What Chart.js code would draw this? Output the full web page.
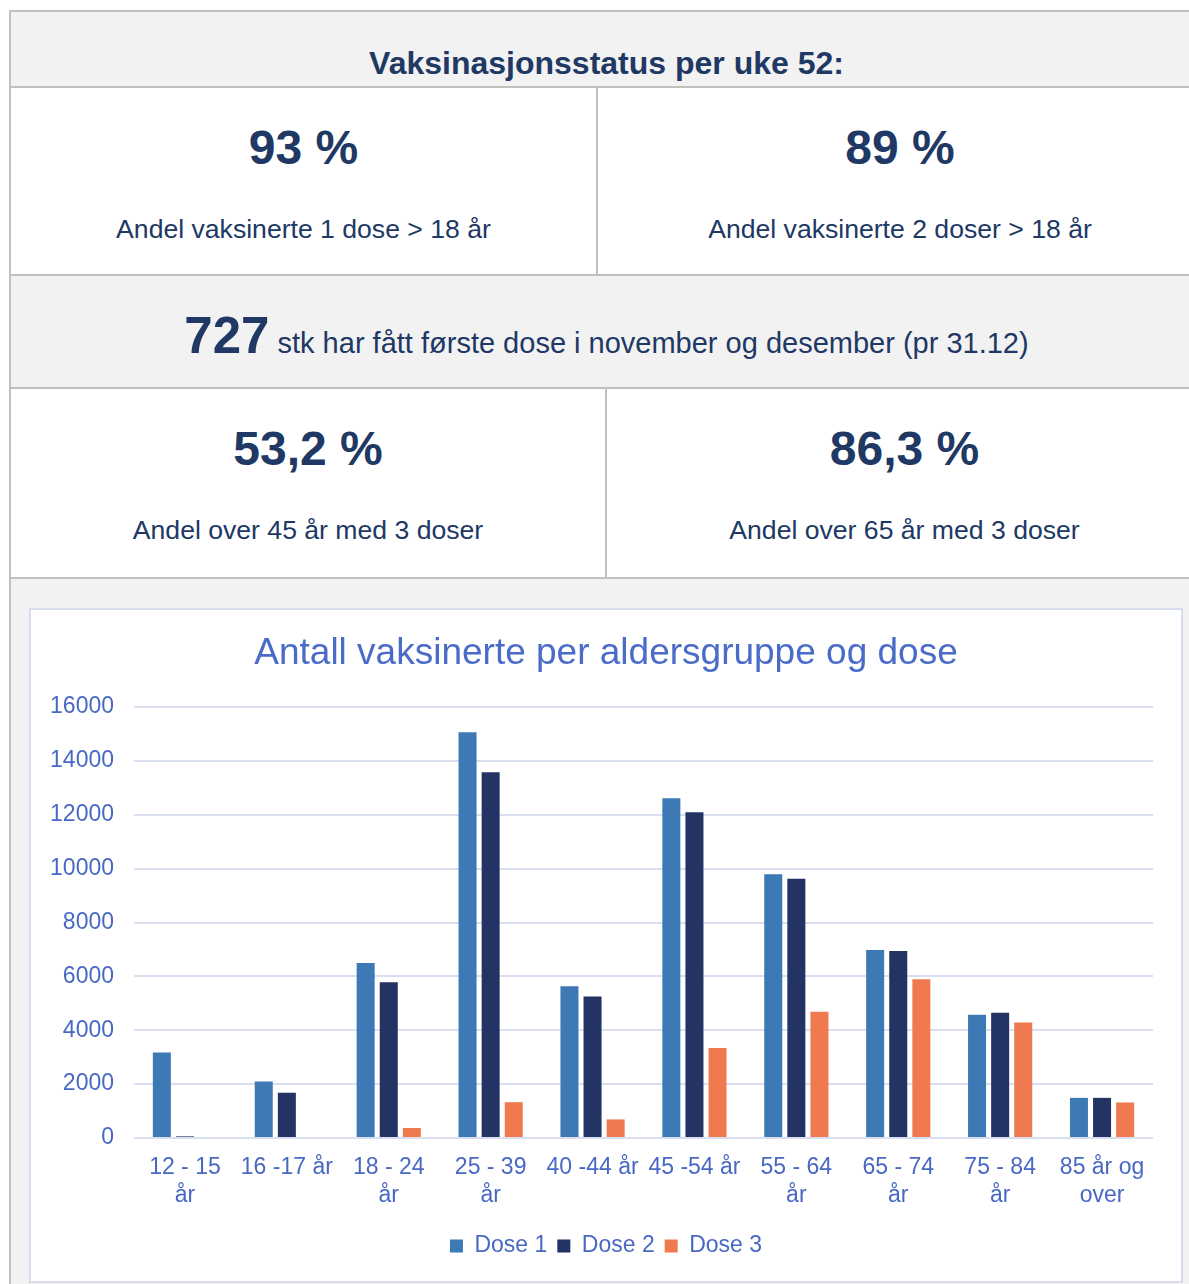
<!DOCTYPE html>
<html lang="no">
<head>
<meta charset="utf-8">
<title>Vaksinasjonsstatus</title>
<script src="https://cdn.jsdelivr.net/npm/chart.js@4.4.0/dist/chart.umd.min.js"></script>
<style>
  html, body { margin: 0; padding: 0; }
  body {
    width: 1189px; height: 1284px; overflow: hidden; position: relative;
    background: #fff; font-family: "Liberation Sans", Arial, sans-serif; color: #203864;
  }
  .row {
    position: absolute; left: 9px; width: 1193px; box-sizing: border-box;
    border-left: 2px solid #c0c0c0; border-top: 2px solid #c0c0c0;
  }
  .grey { background: #f2f2f2; }
  .divider { position: absolute; top: 0; bottom: 0; width: 2px; background: #c0c0c0; }
  .txt { position: absolute; text-align: center; line-height: 1; white-space: nowrap; }
  .big { font-weight: bold; font-size: 48px; }
  .sub { font-size: 26.6px; }
  #chartBox {
    position: absolute; left: 29px; top: 608px; width: 1154px; height: 675px;
    box-sizing: border-box; border: 2px solid #d7ddef; background: #fff;
  }
  #chartWrap { position: absolute; left: 0; top: 0; width: 1150px; height: 671px; }
</style>
</head>
<body>

<div class="row grey" style="top:10px;height:76px;">
  <div class="txt" style="left:0;right:0;top:35px;font-size:32px;font-weight:bold;">Vaksinasjonsstatus per uke 52:</div>
</div>

<div class="row" style="top:86px;height:188px;">
  <div class="divider" style="left:585px;"></div>
  <div class="txt big" style="left:0;width:585px;top:36px;">93 %</div>
  <div class="txt sub" style="left:0;width:585px;top:128px;">Andel vaksinerte 1 dose &gt; 18 år</div>
  <div class="txt big" style="left:587px;width:604px;top:36px;">89 %</div>
  <div class="txt sub" style="left:587px;width:604px;top:128px;">Andel vaksinerte 2 doser &gt; 18 år</div>
</div>

<div class="row grey" style="top:274px;height:113px;">
  <div class="txt" style="left:0;right:0;top:34px;font-size:29px;"><span style="font-size:51px;font-weight:bold;">727</span> stk har fått første dose i november og desember (pr 31.12)</div>
</div>

<div class="row" style="top:387px;height:190px;">
  <div class="divider" style="left:594px;"></div>
  <div class="txt big" style="left:0;width:594px;top:36px;">53,2 %</div>
  <div class="txt sub" style="left:0;width:594px;top:128px;">Andel over 45 år med 3 doser</div>
  <div class="txt big" style="left:596px;width:595px;top:36px;">86,3 %</div>
  <div class="txt sub" style="left:596px;width:595px;top:128px;">Andel over 65 år med 3 doser</div>
</div>

<div class="row grey" style="top:577px;height:720px;"></div>

<div id="chartBox">
  <div id="chartWrap"><canvas id="doseChart"></canvas></div>
</div>

<script>
const ageGroups = [
  ["12 - 15", "år"], "16 -17 år", ["18 - 24", "år"], ["25 - 39", "år"], "40 -44 år",
  "45 -54 år", ["55 - 64", "år"], ["65 - 74", "år"], ["75 - 84", "år"], ["85 år og", "over"]
];
const dose1 = [3170, 2100, 6500, 15060, 5630, 12610, 9790, 6980, 4580, 1490];
const dose2 = [60, 1680, 5780, 13580, 5250, 12090, 9620, 6940, 4650, 1490];
const dose3 = [0, 0, 370, 1330, 690, 3340, 4690, 5890, 4290, 1320];
const yTicks = [0, 2000, 4000, 6000, 8000, 10000, 12000, 14000, 16000];

const blueText = "#4868c4";
const font = "'Liberation Sans', Arial, sans-serif";

const doseCtx = document.getElementById("doseChart");

const doseChart = new Chart(doseCtx, {
  type: "bar",
  data: {
    labels: ageGroups,
    datasets: [
      { label: "Dose 1", data: dose1, backgroundColor: "#3d79b5" },
      { label: "Dose 2", data: dose2, backgroundColor: "#223364" },
      { label: "Dose 3", data: dose3, backgroundColor: "#ef7a50" },
    ],
  },
  options: {
    responsive: true,
    maintainAspectRatio: false,
    animation: false,
    datasets: {
      bar: { categoryPercentage: 0.68, barPercentage: 0.78 },
    },
    layout: { padding: { top: 0, left: 0, right: 0, bottom: 13.5 } },
    plugins: {
      title: {
        display: true,
        text: "Antall vaksinerte per aldersgruppe og dose",
        color: "#4a6cc8",
        font: { family: font, size: 37, weight: "normal" },
        padding: { top: 21.8, bottom: 30.8 },
      },
      legend: {
        position: "bottom",
        labels: {
          color: blueText,
          font: { family: font, size: 23 },
          boxWidth: 13,
          boxHeight: 13,
          padding: 10,
        },
      },
      tooltip: { enabled: false },
    },
    scales: {
      x: {
        grid: { display: false },
        border: { display: false },
        ticks: {
          color: blueText,
          font: { family: font, size: 23 },
          autoSkip: false,
          maxRotation: 0,
          padding: 8,
        },
        afterFit: function (scale) {
          scale.height = 86.5;
        },
      },
      y: {
        min: 0,
        max: 16000,
        border: { display: false },
        grid: { color: "#d9dff1", lineWidth: 2, drawTicks: false },
        afterBuildTicks: function (scale) {
          scale.ticks = yTicks.map((v) => ({ value: v }));
        },
        ticks: {
          color: blueText,
          font: { family: font, size: 23 },
          padding: 20,
          callback: function (value) {
            return String(value);
          },
        },
        afterFit: function (scale) {
          scale.width = 103;
        },
      },
      yRight: {
        position: "right",
        display: true,
        grid: { display: false },
        border: { display: false },
        ticks: { display: false },
        afterFit: function (scale) {
          scale.width = 28;
        },
      },
    },
  },
});
</script>
</body>
</html>
